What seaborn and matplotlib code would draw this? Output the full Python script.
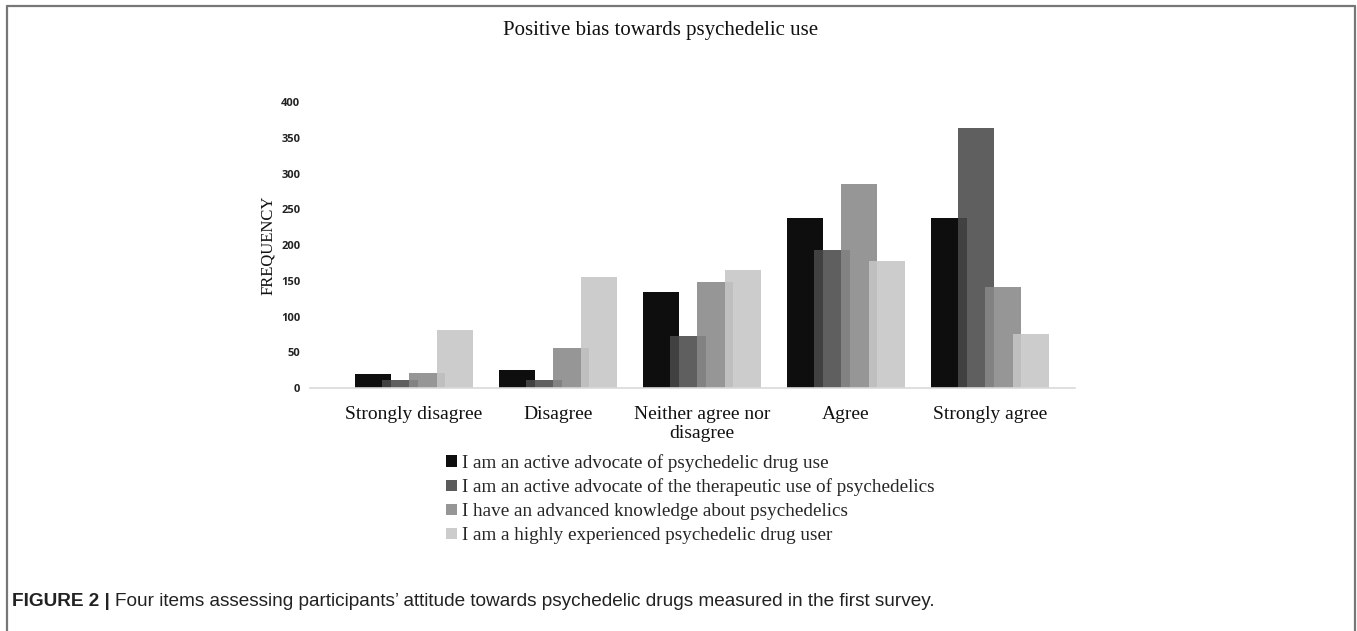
import matplotlib
matplotlib.use("Agg")
import matplotlib.pyplot as plt
from matplotlib.lines import Line2D
from matplotlib.patches import Patch
import pandas as pd
import seaborn as sns

# responses on the likert scale
categories = ["Strongly disagree", "Disagree", "Neither agree nor\ndisagree", "Agree", "Strongly agree"]
items = [
    "I am an active advocate of psychedelic drug use",
    "I am an active advocate of the therapeutic use of psychedelics",
    "I have an advanced knowledge about psychedelics",
    "I am a highly experienced psychedelic drug user",
]
advocate_use = [20, 25, 135, 238, 238]
advocate_therapeutic = [11, 11, 73, 193, 364]
advanced_knowledge = [21, 56, 148, 286, 142]
experienced_user = [81, 156, 165, 178, 76]
# shown colours (legend) and the slightly see-through bar colours that give the same tone on white
colors = ["#0e0e0e", "#5b5b5b", "#969696", "#cccccc"]
bar_colors = ["#0e0e0e", "#494949", "#888888", "#c5c5c5"]
bar_alpha = [1.0, 0.88, 0.88, 0.88]
yticks = [0, 50, 100, 150, 200, 250, 300, 350, 400]

rows = []
for item, vals in zip(items, [advocate_use, advocate_therapeutic, advanced_knowledge, experienced_user]):
    for cat, v in zip(categories, vals):
        rows.append({"response": cat, "item": item, "frequency": v})
df = pd.DataFrame(rows)

sns.set_style("white")
serif = ["Liberation Serif", "DejaVu Serif"]

fig = plt.figure(figsize=(13.57, 6.31), dpi=100)
ax = fig.add_axes([0.2285, 0.385, 0.5635, 0.453])

sns.barplot(data=df, x="response", y="frequency", hue="item", order=categories,
            hue_order=items, palette=bar_colors, saturation=1, width=0.76, gap=0,
            edgecolor="none", linewidth=0, ax=ax, legend=False)

# bars in the original overlap their neighbours a little
n_cat = len(categories)
for i, p in enumerate(ax.patches):
    h = i // n_cat
    cx = p.get_x() + p.get_width() / 2
    p.set_width(0.25)
    p.set_x(cx - 0.125)
    p.set_alpha(bar_alpha[h])

ax.set_xlim(-0.72, 4.59)
ax.set_ylim(0, 400)
ax.set_yticks(yticks)
ax.set_yticklabels([str(t) for t in yticks], fontsize=8, fontweight="bold",
                   family=["Open Sans", "DejaVu Sans"], color="#222222")
ax.set_xticks(range(n_cat))
ax.set_xticklabels(categories, fontsize=14, family=serif, color="#111111",
                   linespacing=1.12)
ax.tick_params(axis="both", length=0)
ax.tick_params(axis="x", pad=13)
ax.tick_params(axis="y", pad=7)
ax.set_xlabel("")
ax.set_ylabel("FREQUENCY", fontsize=12, family=serif, color="#111111", labelpad=4)
for s in ["top", "right", "left"]:
    ax.spines[s].set_visible(False)
ax.spines["bottom"].set_color("#d9d9d9")
ax.spines["bottom"].set_linewidth(1.2)

fig.text(0.487, 0.952, "Positive bias towards psychedelic use", ha="center", va="center",
         fontsize=15, family=serif, color="#111111")

handles = [Patch(facecolor=c, edgecolor="none") for c in colors]
fig.legend(handles, items, loc="upper left", bbox_to_anchor=(0.329, 0.281),
           frameon=False, prop={"family": serif, "size": 13.8}, handlelength=0.55,
           handleheight=0.55, handletextpad=0.25, labelspacing=0.36, borderpad=0,
           borderaxespad=0)

cap_font = ["Liberation Sans Narrow", "Liberation Sans"]
fig.text(0.009, 0.046, "FIGURE 2 |", fontsize=13.7, fontweight="bold", va="center",
         family=cap_font, color="#222222")
fig.text(0.0845, 0.046, "Four items assessing participants\u2019 attitude towards psychedelic drugs measured in the first survey.",
         fontsize=13.7, va="center", family=cap_font, color="#222222")

# frame around the figure panel
border = "#777777"
fig.add_artist(Line2D([0.0052, 0.0052], [0.0, 0.9905], transform=fig.transFigure, color=border, lw=1.6))
fig.add_artist(Line2D([0.0052, 0.9985], [0.9905, 0.9905], transform=fig.transFigure, color=border, lw=1.6))
fig.add_artist(Line2D([0.9985, 0.9985], [0.0, 0.9905], transform=fig.transFigure, color=border, lw=1.6))

fig.savefig("out.png", dpi=100)
